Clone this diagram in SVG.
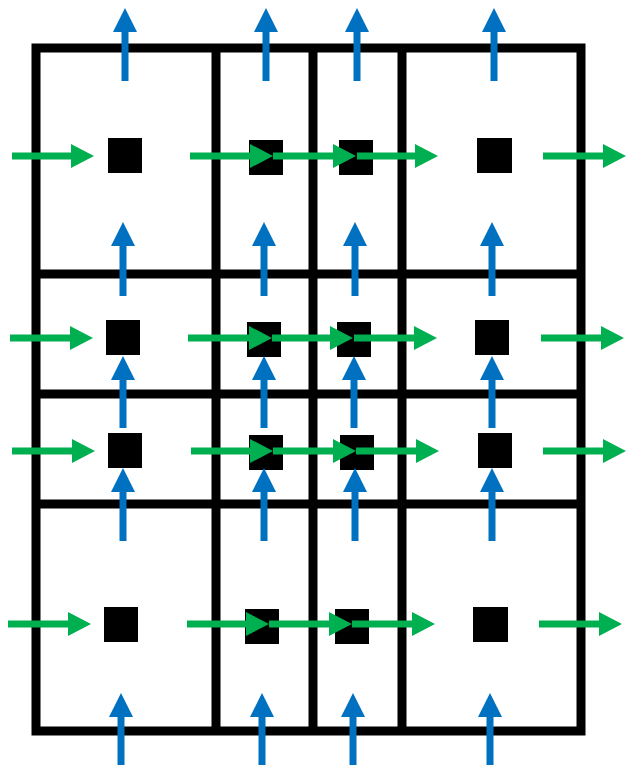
<svg xmlns="http://www.w3.org/2000/svg" width="626" height="765" viewBox="0 0 626 765">
<style>
.grid{stroke:#000;stroke-width:9;fill:none}
.node{fill:#000}
.g{stroke:#00B050;stroke-width:7;marker-end:url(#ga)}
.b{stroke:#0070C0;stroke-width:7;marker-end:url(#ba)}
</style>
<defs>
<marker id="ga" markerUnits="userSpaceOnUse" markerWidth="24" markerHeight="24" refX="0" refY="12" orient="auto" viewBox="0 0 24 24"><path d="M0,0 L23,12 L0,24 z" fill="#00B050"/></marker>
<marker id="ba" markerUnits="userSpaceOnUse" markerWidth="24" markerHeight="24" refX="0" refY="12" orient="auto" viewBox="0 0 24 24"><path d="M0,0 L24,12 L0,24 z" fill="#0070C0"/></marker>
</defs>
<rect width="626" height="765" fill="#fff"/>
<g id="grid" class="grid">
<rect x="36" y="48" width="545" height="683"/>
<line x1="216" y1="48" x2="216" y2="731"/>
<line x1="313" y1="48" x2="313" y2="731"/>
<line x1="402" y1="48" x2="402" y2="731"/>
<line x1="36" y1="274" x2="581" y2="274"/>
<line x1="36" y1="394" x2="581" y2="394"/>
<line x1="36" y1="504" x2="581" y2="504"/>
</g>
<g id="n11"><rect class="node" x="108" y="138" width="34" height="35"/></g>
<g id="n12"><rect class="node" x="249" y="140" width="34" height="35"/></g>
<g id="n13"><rect class="node" x="339" y="140" width="34" height="35"/></g>
<g id="n14"><rect class="node" x="477" y="138" width="35" height="35"/></g>
<g id="n21"><rect class="node" x="106" y="320" width="34" height="35"/></g>
<g id="n22"><rect class="node" x="247" y="322" width="34" height="35"/></g>
<g id="n23"><rect class="node" x="337" y="322" width="34" height="35"/></g>
<g id="n24"><rect class="node" x="475" y="320" width="34" height="35"/></g>
<g id="n31"><rect class="node" x="108" y="433" width="34" height="35"/></g>
<g id="n32"><rect class="node" x="249" y="435" width="34" height="35"/></g>
<g id="n33"><rect class="node" x="340" y="435" width="34" height="35"/></g>
<g id="n34"><rect class="node" x="478" y="433" width="34" height="35"/></g>
<g id="n41"><rect class="node" x="104" y="607" width="34" height="35"/></g>
<g id="n42"><rect class="node" x="245" y="609" width="34" height="35"/></g>
<g id="n43"><rect class="node" x="335" y="609" width="34" height="35"/></g>
<g id="n44"><rect class="node" x="473" y="607" width="35" height="35"/></g>
<g id="connectors">
<line class="b" x1="125" y1="81" x2="125" y2="32"/>
<line class="b" x1="266" y1="81" x2="266" y2="32"/>
<line class="b" x1="357" y1="81" x2="357" y2="32"/>
<line class="b" x1="494" y1="81" x2="494" y2="32"/>
<line class="b" x1="123" y1="296" x2="123" y2="246"/>
<line class="b" x1="264" y1="296" x2="264" y2="246"/>
<line class="b" x1="355" y1="296" x2="355" y2="246"/>
<line class="b" x1="492" y1="296" x2="492" y2="246"/>
<line class="b" x1="123" y1="428" x2="123" y2="380"/>
<line class="b" x1="264" y1="428" x2="264" y2="380"/>
<line class="b" x1="354" y1="428" x2="354" y2="380"/>
<line class="b" x1="492" y1="428" x2="492" y2="380"/>
<line class="b" x1="123" y1="541" x2="123" y2="492"/>
<line class="b" x1="264" y1="541" x2="264" y2="492"/>
<line class="b" x1="355" y1="541" x2="355" y2="492"/>
<line class="b" x1="492" y1="541" x2="492" y2="492"/>
<line class="b" x1="121" y1="770" x2="121" y2="717"/>
<line class="b" x1="262" y1="770" x2="262" y2="717"/>
<line class="b" x1="353" y1="770" x2="353" y2="717"/>
<line class="b" x1="490" y1="770" x2="490" y2="717"/>
<line class="g" x1="12" y1="156" x2="71" y2="156"/>
<line class="g" x1="190" y1="156" x2="250" y2="156"/>
<line class="g" x1="273" y1="156" x2="333" y2="156"/>
<line class="g" x1="357" y1="156" x2="415" y2="156"/>
<line class="g" x1="543" y1="156" x2="603" y2="156"/>
<line class="g" x1="10" y1="338" x2="70" y2="338"/>
<line class="g" x1="188" y1="338" x2="249" y2="338"/>
<line class="g" x1="272" y1="338" x2="330" y2="338"/>
<line class="g" x1="354" y1="338" x2="414" y2="338"/>
<line class="g" x1="541" y1="338" x2="601" y2="338"/>
<line class="g" x1="12" y1="451" x2="72" y2="451"/>
<line class="g" x1="191" y1="451" x2="250" y2="451"/>
<line class="g" x1="273" y1="451" x2="333" y2="451"/>
<line class="g" x1="356" y1="451" x2="416" y2="451"/>
<line class="g" x1="543" y1="451" x2="603" y2="451"/>
<line class="g" x1="8" y1="624" x2="68" y2="624"/>
<line class="g" x1="187" y1="624" x2="246" y2="624"/>
<line class="g" x1="269" y1="624" x2="329" y2="624"/>
<line class="g" x1="352" y1="624" x2="412" y2="624"/>
<line class="g" x1="539" y1="624" x2="599" y2="624"/>
</g>
</svg>
